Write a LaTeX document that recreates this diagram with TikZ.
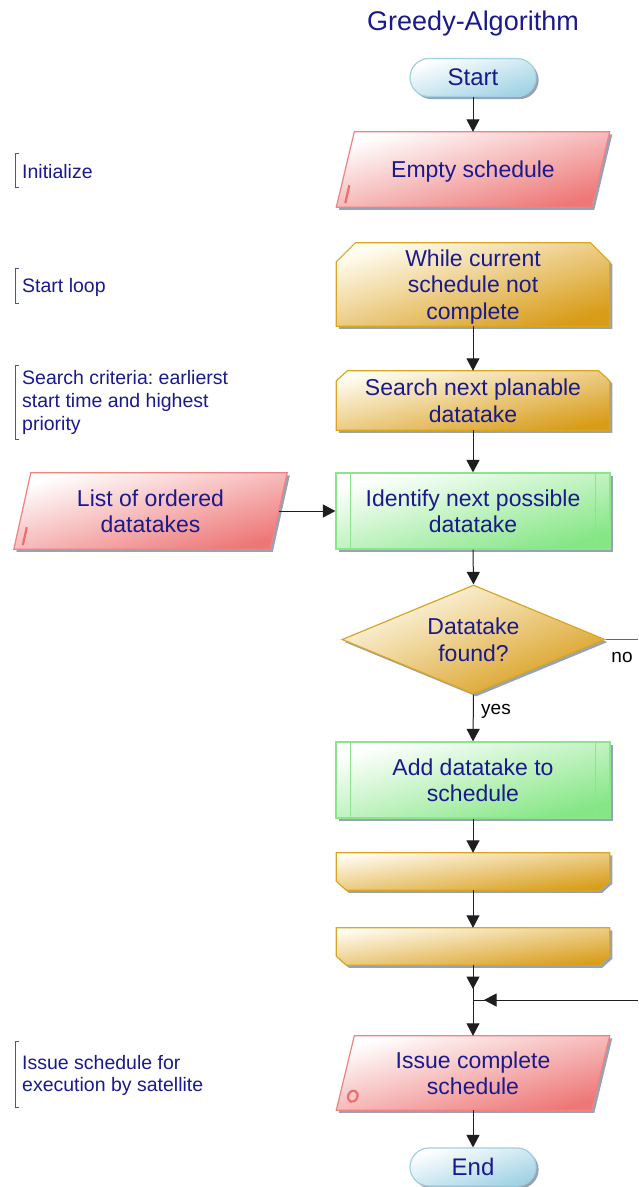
\documentclass[tikz,border=0pt]{standalone}
\usepackage{fontspec}
\setmainfont{Liberation Sans}
\usetikzlibrary{arrows.meta,shadows,calc,shapes.geometric}
\pgfdeclarelayer{background}
\pgfsetlayers{background,main}
\frenchspacing

\definecolor{ink}{RGB}{26,26,140}
\definecolor{brk}{RGB}{80,80,165}
\definecolor{lineblack}{RGB}{30,30,30}
\definecolor{redline}{RGB}{240,130,130}
\definecolor{redfill}{RGB}{238,118,118}
\definecolor{redmark}{RGB}{236,110,110}
\definecolor{goldline}{RGB}{218,165,32}
\definecolor{goldfill}{RGB}{216,156,24}
\definecolor{goldlight}{RGB}{255,252,240}
\definecolor{greenline}{RGB}{140,228,140}
\definecolor{greenfill}{RGB}{132,230,132}
\definecolor{blueline}{RGB}{160,208,226}
\definecolor{bluefill}{RGB}{160,210,228}
\definecolor{shadowcol}{RGB}{140,152,172}

% centred lines of text, set a little lower in their box
\newcommand\ctext[1]{\raisebox{-3pt}[\height][\depth]{\begin{tabular}{@{}c@{}}#1\end{tabular}}}

% shapes drawn behind the texts
\newcommand\dataShape[3]{% node name, slant offset, shading angle
  \path[datashape=#3] ($(#1.north west)+(#2,0)$) -- (#1.north east)
    -- ($(#1.south east)+(-#2,0)$) -- (#1.south west) -- cycle;}
\newcommand\loopTopShape[4]{% node name, cut x, cut y, shading angle
  \path[prepshape=#4] (#1.south west) -- ($(#1.north west)+(0,#3)$)
    -- ($(#1.north west)+(#2,0)$) -- ($(#1.north east)+(-#2,0)$)
    -- ($(#1.north east)+(0,#3)$) -- (#1.south east) -- cycle;}
\newcommand\loopEndShape[4]{% node name, cut x, cut y, shading angle
  \path[prepshape=#4] (#1.north west) -- (#1.north east)
    -- ($(#1.south east)+(0,-#3)$) -- ($(#1.south east)+(-#2,0)$)
    -- ($(#1.south west)+(#2,0)$) -- ($(#1.south west)+(0,-#3)$) -- cycle;}
\newcommand\noteBracket[2]{% top y, bottom y
  \draw[brk, line width=0.9pt] (19,#1) -- (15,#1) -- (15,#2) -- (19,#2);}

\begin{document}
\begin{tikzpicture}[x=1pt,y=-1pt,
  boxshadow/.style={drop shadow={shadow xshift=2.6pt,shadow yshift=-2.6pt,fill=shadowcol,opacity=0.9}},
  datashape/.style={boxshadow, draw=redline, line width=1.2pt,
    top color=white, bottom color=redfill, shading angle=#1},
  prepshape/.style={boxshadow, draw=goldline, line width=1.2pt,
    top color=goldlight, bottom color=goldfill, shading angle=#1},
  txt/.style={font=\fontsize{23}{26.5}\selectfont, text=ink, inner sep=0pt},
  holder/.style={txt, rectangle, draw=none, minimum width=#1},
  holder/.default=273pt,
  term/.style={txt, rectangle, rounded corners=19pt, minimum width=126pt, minimum height=38pt,
    draw=blueline, line width=1.2pt, top color=white, bottom color=bluefill, shading angle=17,
    boxshadow, font=\fontsize{24}{26}\selectfont},
  proc/.style={txt, rectangle, minimum width=274pt, minimum height=76pt,
    draw=greenline, line width=1.2pt, top color=white, bottom color=greenfill, shading angle=15.5,
    boxshadow},
  decide/.style={txt, diamond, minimum width=263pt, minimum height=109pt, aspect=2.4,
    draw=goldline, line width=1.2pt, top color=goldlight, bottom color=goldfill, shading angle=22.5,
    boxshadow},
  note/.style={font=\fontsize{19.5}{22.6}\selectfont, text=ink, align=left, inner sep=0pt, anchor=west},
  edgelabel/.style={font=\fontsize{19}{22}\selectfont, text=black, inner sep=0pt},
  arr/.style={draw=lineblack, line width=1pt, -{Triangle[length=12.5pt,width=13pt]}},
  plain/.style={draw=lineblack, line width=1pt},
  graylink/.style={draw=black!60, line width=0.9pt}
]
\useasboundingbox (0,0) rectangle (638,1187);
\begin{pgfonlayer}{background}
  \fill[white] (0,0) rectangle (638,1187);
\end{pgfonlayer}

% title
\node[font=\fontsize{27}{30}\selectfont, text=ink, inner sep=0pt] (title) at (473,23.5) {Greedy-Algorithm};

% main column
\node[term] (start) at (473,77.5) {\ctext{Start}};
\node[holder, minimum height=75pt] (empty) at (473,169.5) {\ctext{Empty schedule}};
\node[holder, minimum height=83pt] (while) at (473,284.5) {\ctext{While current\\schedule not\\complete}};
\node[holder, minimum height=59pt] (search) at (473,400.5) {\ctext{Search next planable\\datatake}};
\node[proc] (ident) at (473,511) {\ctext{Identify next possible\\datatake}};
\node[holder, minimum height=76pt] (list) at (150.5,511) {\ctext{List of ordered\\datatakes}};
\node[decide] (found) at (473.5,639.5) {\ctext{Datatake\\found?}};
\node[proc] (add) at (473,780) {\ctext{Add datatake to\\schedule}};
\node[holder, minimum height=37pt] (prepA) at (473,871.5) {};
\node[holder, minimum height=37pt] (prepB) at (473,946.5) {};
\node[holder, minimum height=74pt] (issue) at (473,1073) {\ctext{Issue complete\\schedule}};
\node[term] (end) at (473,1167) {\ctext{End}};

% outlines of the data and loop boxes
\begin{pgfonlayer}{background}
  \dataShape{empty}{18}{15.4}
  \dataShape{list}{17}{15.6}
  \dataShape{issue}{18}{15.2}
  \loopTopShape{while}{19}{19}{16.9}
  \loopTopShape{search}{11}{10}{12.2}
  \loopEndShape{prepA}{10}{9}{7.7}
  \loopEndShape{prepB}{10}{9}{7.7}
\end{pgfonlayer}

% input / output marks
\draw[redmark, line width=2.2pt] ($(empty.south west)+(9,-4)$) -- ($(empty.south west)+(13,-22)$);
\draw[redmark, line width=2.2pt] ($(list.south west)+(9,-4)$) -- ($(list.south west)+(13,-22)$);
\draw[redmark, line width=2.2pt] ($(issue.south west)+(16.5,-14)$) ellipse [x radius=4.6pt, y radius=5.8pt, rotate=-25];

% subprocess side bars
\foreach \n in {ident,add}{
  \draw[greenline, line width=1.2pt] ($(\n.north west)+(15,0)$) -- ($(\n.south west)+(15,0)$);
  \draw[greenline, line width=1.2pt] ($(\n.north east)+(-15,0)$) -- ($(\n.south east)+(-15,0)$);
}

% junction of the loop return
\coordinate (noend) at (638,639.5);
\coordinate (loopin) at (638,1000);
\coordinate (join) at (473,1000);
\coordinate (joinarrow) at (473,989);
\coordinate (joinside) at (484,1000);

% connectors
\draw[arr] (start.south) -- (empty.north);
\draw[arr] (while.south) -- (search.north);
\draw[arr] (search.south) -- (ident.north);
\draw[arr] ($(list.east)+(-8,0)$) -- (ident.west);
\draw[arr] (ident.south) -- (found.north);
\draw[graylink] (found.east) -- (noend);
\draw[arr] (found.south) -- (add.north);
\draw[arr] (add.south) -- (prepA.north);
\draw[arr] (prepA.south) -- (prepB.north);
\draw[plain] (prepB.south) -- (join);
\draw[arr] (prepB.south) -- (joinarrow);
\draw[plain] (loopin) -- (join);
\draw[arr] (loopin) -- (joinside);
\draw[arr] (join) -- (issue.north);
\draw[arr] (issue.south) -- (end.north);

% edge labels
\node[edgelabel] (yes) at (496,711) {yes};
\node[edgelabel] (no) at (622,657) {no};

% side notes
\noteBracket{153}{187}
\node[note] (n1) at (22,172) {Initialize};
\noteBracket{268}{303}
\node[note] (n2) at (22,287.5) {Start loop};
\noteBracket{365}{439}
\node[note] (n3) at (22,402.5) {Search criteria: earlierst\\start time and highest\\priority};
\noteBracket{1041}{1107}
\node[note] (n4) at (22,1075.5) {Issue schedule for\\execution by satellite};
\end{tikzpicture}
\end{document}
